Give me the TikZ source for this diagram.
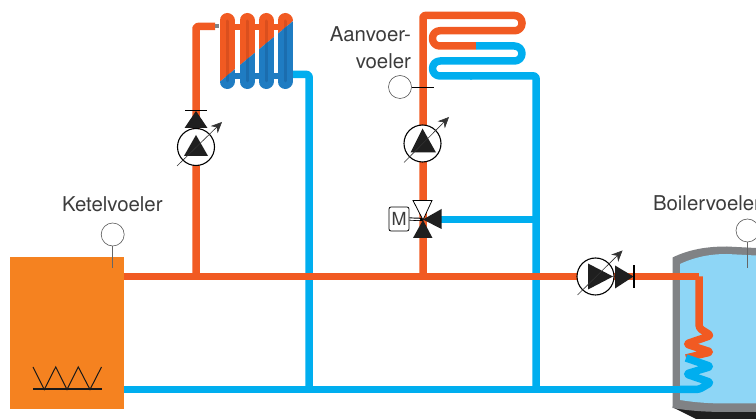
\documentclass[tikz,border=0pt]{standalone}
\usepackage{fontspec}
\setmainfont{TeX Gyre Heros}
\usetikzlibrary{arrows.meta,positioning}

\definecolor{hotpipe}{HTML}{F15A22}
\definecolor{coldpipe}{HTML}{00AEEF}
\definecolor{ketelfill}{HTML}{F58220}
\definecolor{hotdark}{HTML}{DA4F1E}
\definecolor{radblue}{HTML}{1F7CC2}
\definecolor{raddark}{HTML}{1B6DAE}
\definecolor{wallgrey}{HTML}{808285}
\definecolor{waterblue}{HTML}{8ED6F6}
\definecolor{inkgrey}{HTML}{3C3C3C}

\tikzset{
	hot/.style = {draw=hotpipe, line width=7.5pt, line join=round},
	cold/.style = {draw=coldpipe, line width=7.5pt, line join=round},
	pump/.style = {draw=black, fill=white, circle, line width=1.1pt, minimum size=37pt, inner sep=0pt, outer sep=0pt},
	sensor/.style = {draw=black!65, fill=white, circle, line width=0.6pt, minimum size=23pt, inner sep=0pt, outer sep=0pt},
	sensorline/.style = {draw=black!60, line width=0.8pt},
	solid/.style = {fill=black!88!white},
	tuning/.style = {draw=black!80, line width=0.6pt, -{Stealth[length=11pt,width=10pt]}},
	label/.style = {inner sep=0pt, outer sep=0pt, text=inkgrey, font=\fontsize{20.4}{24}\selectfont}
}

\newcommand{\radcolumns}[2]{
	\draw[#1, line width=6pt] (227,27) -- (285,27);
	\draw[#1, line width=6pt] (227,76) -- (285,76);
	\foreach \colx in {227,247,266,285} {
		\draw[#1, line width=15pt, line cap=round] (\colx,20.5) -- (\colx,81.5);
		\draw[#2, line width=3pt, line cap=round] (\colx,21) -- (\colx,81);
	}
}

\begin{document}
\begin{tikzpicture}[x=1pt, y=-1pt]
	\useasboundingbox (0,0) rectangle (756,419);

	% boiler vessel
	\fill[black!88!white] (672,407) -- (696,419) -- (756,419) -- (756,405) -- cycle;
	\fill[wallgrey] (672.5,257.5) .. controls (690,249) and (708,246.5) .. (727,246.5)
		-- (756,248) -- (756,412) -- (727,412) .. controls (708,412) and (690,411) .. (672.5,408) -- cycle;
	\fill[waterblue] (680,264) .. controls (695,257) and (710,254) .. (727,254)
		-- (756,255.5) -- (756,403.5) -- (727,403.5) .. controls (710,403.5) and (695,402.5) .. (680,400) -- cycle;

	% ketel
	\node[fill=ketelfill, minimum width=114pt, minimum height=152pt, inner sep=0pt, outer sep=0pt] (ketel) at (67,333) {};
	\draw[black!90, line width=1pt] (33,367) -- (44.3,389.5) -- (55.7,367) -- (67,389.5) -- (78.3,367) -- (90,389.5) -- (101.5,367);
	\draw[black!90, line width=2pt] (33,389.5) -- (102,389.5);

	% named points of the pipes
	\coordinate (hotA) at (124,276.5);
	\coordinate (hotB) at (699,276.5);
	\coordinate (coldA) at (124,389.5);
	\coordinate (coldB) at (699,389.5);
	\coordinate (teeA) at (196,276.5);
	\coordinate (teeB) at (423,276.5);
	\coordinate (radin) at (196,26.5);
	\coordinate (radinend) at (215,26.5);
	\coordinate (radout) at (292,74.5);
	\coordinate (retA) at (309,74.5);
	\coordinate (retB) at (309,389.5);
	\coordinate (floortop) at (423,15.5);
	\coordinate (floorret) at (536,76);
	\coordinate (floorbot) at (536,389.5);
	\coordinate (mixtee) at (536,219.5);

	% hot and cold pipes
	\draw[cold] (coldA) -- (coldB);
	\draw[cold, rounded corners=2pt] (radout) -- (retA) -- (retB);
	\draw[cold, rounded corners=2pt] (470,76) -- (floorret) -- (floorbot);
	\draw[hot] (hotA) -- (hotB);
	\draw[hot, rounded corners=2pt] (teeA) -- (radin) -- (radinend);
	\draw[hot, rounded corners=2pt] (teeB) -- (floortop) -- (470,15.5);

	% floor coil
	\draw[hot, rounded corners=7.25pt] (470,15.5) -- (522,15.5) -- (522,30.75) -- (432.5,30.75) -- (432.5,46) -- (476,46);
	\draw[cold, rounded corners=7.5pt] (476,46) -- (522,46) -- (522,61) -- (432.5,61) -- (432.5,76) -- (472,76);

	% boiler coil
	\draw[hot, rounded corners=3pt] (hotB) -- (699,328) -- (711,335.5) -- (686,344) -- (711,352) -- (686,358);
	\draw[cold, rounded corners=3pt] (686,358) -- (711,366.5) -- (686,374) -- (711,382.5) -- (699,389.5) -- (680,389.5);
	\draw[hot] (635,276.5) -- (hotB);

	% radiator, split along the diagonal
	\draw[wallgrey, line width=4pt] (215,26.5) -- (219,26.5);
	\begin{scope}
		\clip (210,0) -- (300,0) -- (300,15.4) -- (210,89.9) -- cycle;
		\radcolumns{hotpipe}{hotdark}
	\end{scope}
	\begin{scope}
		\clip (210,89.9) -- (300,15.4) -- (300,100) -- (210,100) -- cycle;
		\radcolumns{radblue}{raddark}
	\end{scope}

	% pump and check valve of the radiator
	\draw[black, line width=1.6pt] (185,110.5) -- (207,110.5);
	\fill[solid] (196,111) -- (207.5,128) -- (184.5,128) -- cycle;
	\node[pump] (pumpA) at (196,147) {};
	\fill[solid] (196,135) -- (208,156) -- (184,156) -- cycle;
	\coordinate (tuneAa) at (177,166);
	\coordinate (tuneAb) at (222,122);
	\draw[tuning] (tuneAa) -- (tuneAb);

	% pump of the floor
	\node[pump] (pumpB) at (422.5,143.5) {};
	\fill[solid] (422.5,128.5) -- (436,152.5) -- (410.5,152.5) -- cycle;
	\coordinate (tuneBa) at (404,162.5);
	\coordinate (tuneBb) at (449,117);
	\draw[tuning] (tuneBa) -- (tuneBb);

	% mixing valve
	\draw[cold] (441,219.5) -- (mixtee);
	\node[draw=black, fill=white, rounded corners=2pt, line width=0.8pt, minimum width=20pt, minimum height=24pt, inner sep=0pt, font=\fontsize{18}{20}\selectfont, text=inkgrey] (motor) at (399,219) {M};
	\draw[black, line width=3.2pt] (motor.east) -- (423,219.5);
	\draw[white, line width=1.4pt] (motor.east) -- (420,219.5);
	\draw[black, fill=white, line width=0.8pt] (423,220) -- (413,200.5) -- (432,200.5) -- cycle;
	\fill[solid] (423,220) -- (432.5,238) -- (413,238) -- cycle;
	\fill[solid] (423,219.5) -- (441.5,209) -- (441.5,229) -- cycle;

	% pump and check valve of the boiler
	\node[pump] (pumpC) at (595.5,276.5) {};
	\fill[solid] (613,276.5) -- (588,263.5) -- (588,289.5) -- cycle;
	\fill[solid] (633.5,276.5) -- (615,265.5) -- (615,288.5) -- cycle;
	\draw[black, line width=1.6pt] (634,265.5) -- (634,288.5);
	\coordinate (tuneCa) at (577.5,295);
	\coordinate (tuneCb) at (622.5,250.5);
	\draw[tuning] (tuneCa) -- (tuneCb);

	% sensors
	\node[sensor] (sensK) at (112.7,234.5) {};
	\coordinate (sensKend) at (112.7,268);
	\draw[sensorline] (sensK.south) -- (sensKend);
	\node[sensor] (sensA) at (400,87) {};
	\coordinate (sensAend) at (434,87);
	\draw[black, line width=0.7pt] (sensA.east) -- (sensAend);
	\node[sensor] (sensB) at (747.5,230.5) {};
	\coordinate (sensBend) at (747.5,268);
	\draw[sensorline] (sensB.south) -- (sensBend);

	% labels
	\node[label, anchor=base west] (lblK) at (62,211.5) {Ketelvoeler};
	\node[label, anchor=base east] (lblAa) at (411,42) {Aanvoer-};
	\node[label, anchor=base east] (lblAb) at (411,69) {voeler};
	\node[label, anchor=base west] (lblB) at (653,211) {Boilervoeler};
\end{tikzpicture}
\end{document}
